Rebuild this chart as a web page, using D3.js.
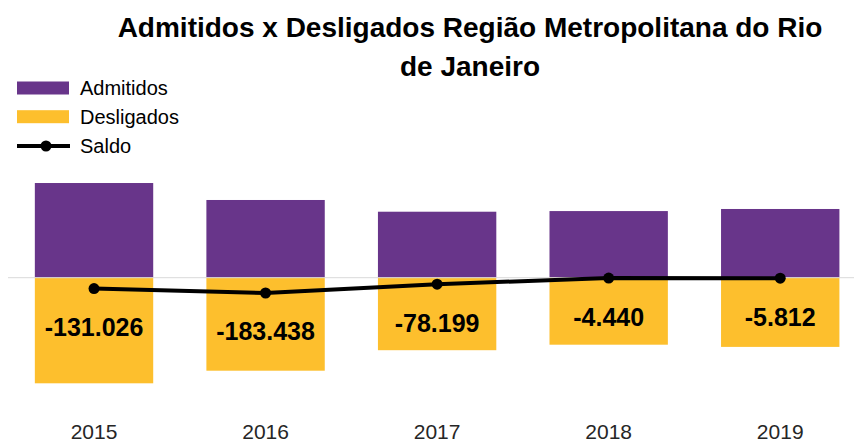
<!DOCTYPE html>
<html>
<head>
<meta charset="utf-8">
<script src="https://cdn.jsdelivr.net/npm/d3@7"></script>
<style>
  body { margin: 0; background: #fff; }
  svg { display: block; }
</style>
</head>
<body>
<div id="grafico"></div>
<script>
// dados
const anos = ["2015", "2016", "2017", "2018", "2019"];
const admitidos = [1136174, 932562, 791801, 799560, 824588];
const desligados = [1267200, 1116000, 870000, 804000, 830400];
const saldo = [-131026, -183438, -78199, -4440, -5812];
const tituloLinhas = ["Admitidos x Desligados Região Metropolitana do Rio", "de Janeiro"];
const legendaNomes = ["Admitidos", "Desligados", "Saldo"];

const corAdm = "#68358a";
const corDes = "#fdbf2d";

const largura = 854, altura = 443;
const zeroY = 277.7;
const porPx = 12000;

const svg = d3.select("#grafico")
  .append("svg")
  .attr("width", largura)
  .attr("height", altura);

// escalas
const x = d3.scaleBand()
  .domain(anos)
  .range([8.25, 866])
  .paddingInner(0.31)
  .paddingOuter(0.155);

const y = d3.scaleLinear()
  .domain([-1300000, 1300000])
  .range([zeroY + 1300000 / porPx, zeroY - 1300000 / porPx]);

// titulo
svg.append("g")
  .selectAll("text")
  .data(tituloLinhas)
  .join("text")
  .attr("x", 470)
  .attr("y", (d, i) => 36.7 + i * 39)
  .attr("text-anchor", "middle")
  .attr("font-family", "'Liberation Sans Narrow', 'Liberation Sans', sans-serif")
  .attr("font-weight", "bold")
  .attr("font-size", 28)
  .attr("fill", "#000")
  .text(d => d);

// barras
const dados = anos.map((a, i) => ({ ano: a, adm: admitidos[i], des: desligados[i], saldo: saldo[i] }));

svg.append("g")
  .selectAll("rect")
  .data(dados)
  .join("rect")
  .attr("x", d => x(d.ano))
  .attr("y", d => y(d.adm))
  .attr("width", x.bandwidth())
  .attr("height", d => y(0) - y(d.adm))
  .attr("fill", corAdm);

svg.append("g")
  .selectAll("rect")
  .data(dados)
  .join("rect")
  .attr("x", d => x(d.ano))
  .attr("y", y(0))
  .attr("width", x.bandwidth())
  .attr("height", d => y(-d.des) - y(0))
  .attr("fill", corDes);

// linha do zero
svg.append("line")
  .attr("x1", 8)
  .attr("x2", largura)
  .attr("y1", y(0))
  .attr("y2", y(0))
  .attr("stroke", "#d9d9d9")
  .attr("stroke-width", 1);

// linha do saldo
const cx = d => x(d.ano) + x.bandwidth() / 2;
const linha = d3.line().x(cx).y(d => y(d.saldo));

svg.append("path")
  .datum(dados)
  .attr("d", linha)
  .attr("fill", "none")
  .attr("stroke", "#000")
  .attr("stroke-width", 4);

svg.append("g")
  .selectAll("circle")
  .data(dados)
  .join("circle")
  .attr("cx", cx)
  .attr("cy", d => y(d.saldo))
  .attr("r", 5.5)
  .attr("fill", "#000");

// rotulos do saldo
const fmt = d3.formatLocale({ decimal: ",", thousands: ".", grouping: [3], currency: ["R$", ""], minus: "-" }).format(",d");

svg.append("g")
  .selectAll("text")
  .data(dados)
  .join("text")
  .attr("x", cx)
  .attr("y", d => y(d.saldo) + 47.5)
  .attr("text-anchor", "middle")
  .attr("font-family", "'Liberation Sans', Arial, sans-serif")
  .attr("font-weight", "bold")
  .attr("font-size", 25)
  .attr("fill", "#000")
  .text(d => fmt(d.saldo));

// eixo x (so os anos)
const eixoX = svg.append("g")
  .attr("transform", `translate(0, 420)`)
  .call(d3.axisBottom(x).tickSize(0).tickPadding(0));
eixoX.select(".domain").remove();
eixoX.selectAll("text")
  .attr("dy", null)
  .attr("y", 18.5)
  .attr("font-family", "'Liberation Sans', Arial, sans-serif")
  .attr("font-size", 21)
  .attr("fill", "#262626");

// legenda
const leg = svg.append("g")
  .attr("font-family", "'Liberation Sans', Arial, sans-serif")
  .attr("font-size", 20)
  .attr("fill", "#000");

const legY = [88, 116.7, 146];

leg.append("rect").attr("x", 17).attr("y", legY[0] - 6.5).attr("width", 52).attr("height", 13).attr("fill", corAdm);
leg.append("rect").attr("x", 17).attr("y", legY[1] - 6.5).attr("width", 52).attr("height", 13).attr("fill", corDes);
leg.append("line").attr("x1", 17).attr("x2", 70).attr("y1", legY[2]).attr("y2", legY[2])
  .attr("stroke", "#000").attr("stroke-width", 4);
leg.append("circle").attr("cx", 46).attr("cy", legY[2]).attr("r", 5.5).attr("fill", "#000");

leg.selectAll("text")
  .data(legendaNomes)
  .join("text")
  .attr("x", 80)
  .attr("y", (d, i) => legY[i] + 7)
  .text(d => d);
</script>
</body>
</html>
